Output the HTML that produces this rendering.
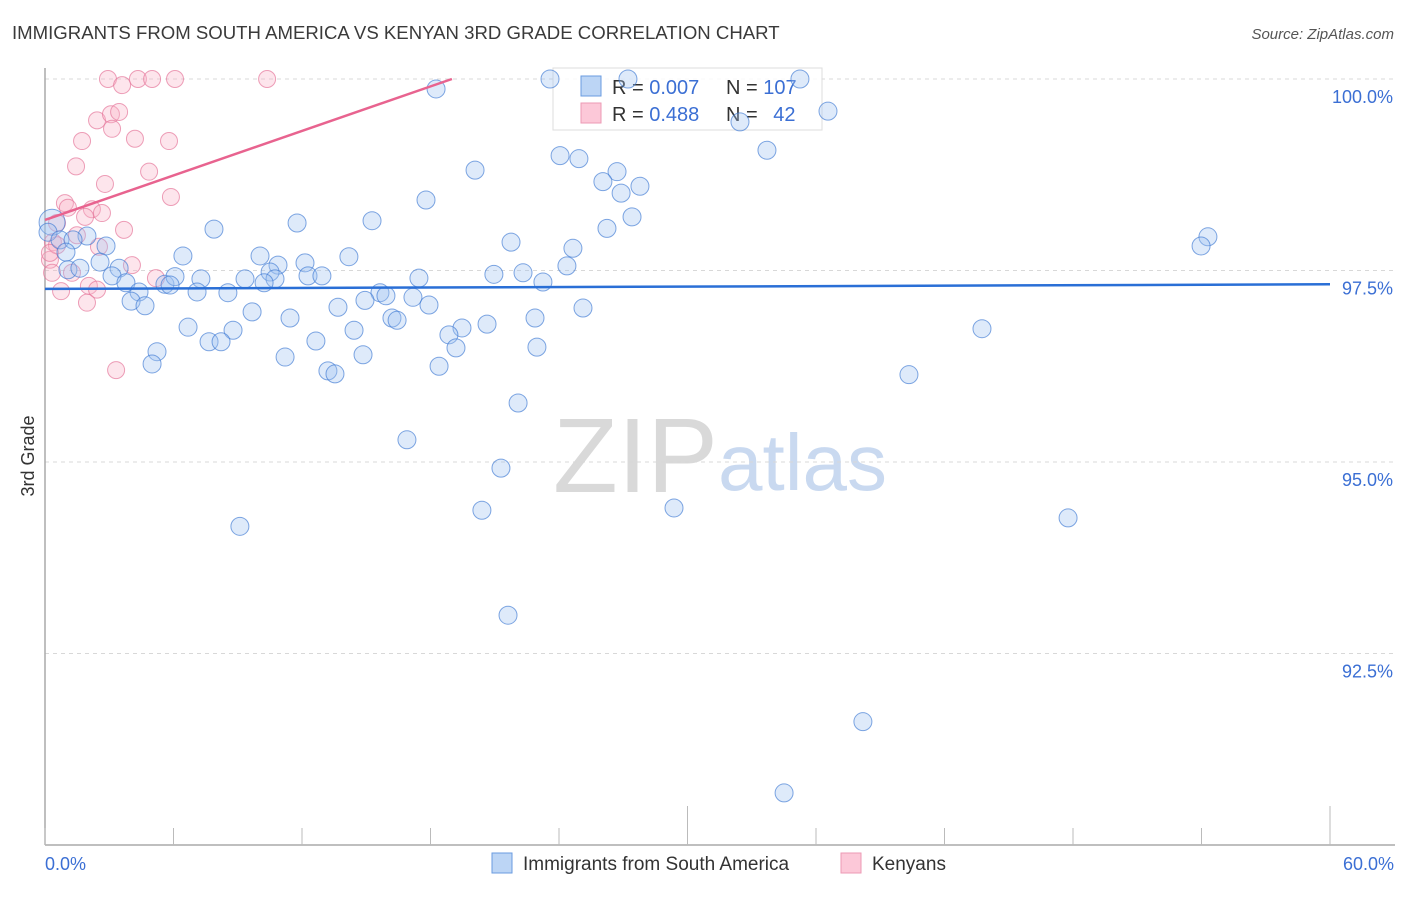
<!DOCTYPE html>
<html><head><meta charset="utf-8"><style>
body{margin:0;background:#fff;font-family:"Liberation Sans",sans-serif;}
svg text{font-family:"Liberation Sans",sans-serif;}
</style></head><body>
<svg id="chart" width="1406" height="892" viewBox="0 0 1406 892">
<text x="12" y="39" font-size="18.6" fill="#3a3a3a">IMMIGRANTS FROM SOUTH AMERICA VS KENYAN 3RD GRADE CORRELATION CHART</text>
<text x="1394" y="39" font-size="15" fill="#555" font-style="italic" text-anchor="end">Source: ZipAtlas.com</text>
<g>
<text x="553" y="492" font-size="106" fill="#d9d9d9" font-family="Liberation Serif">ZIP</text>
<text x="718" y="490" font-size="80" fill="#c9d9f0">atlas</text>
</g>
<g id="grid"></g><g id="axes"></g>
<g>
<rect x="553" y="68" width="269" height="62" fill="#fff" fill-opacity="0.85" stroke="#ddd"/>
<rect x="581" y="76" width="20" height="20" fill="#bcd5f5" stroke="#6a9be0"/>
<rect x="581" y="103" width="20" height="20" fill="#fcc8d8" stroke="#ec9ab4"/>
<text x="612" y="94" font-size="20" fill="#333">R = <tspan fill="#3b6fd4">0.007</tspan></text>
<text x="726" y="94" font-size="20" fill="#333">N = <tspan fill="#3b6fd4">107</tspan></text>
<text x="612" y="121" font-size="20" fill="#333">R = <tspan fill="#3b6fd4">0.488</tspan></text>
<text x="726" y="121" font-size="20" fill="#333">N = <tspan fill="#3b6fd4" dx="10">42</tspan></text>
</g>
<g id="pink"></g><g id="blue"></g><g id="lines"></g>
<text transform="translate(34,456) rotate(-90)" font-size="18" fill="#333" text-anchor="middle">3rd Grade</text>
<g>
<rect x="492" y="853" width="20" height="20" fill="#bcd5f5" stroke="#6a9be0"/>
<text x="523" y="870" font-size="19" fill="#333">Immigrants from South America</text>
<rect x="841" y="853" width="20" height="20" fill="#fcc8d8" stroke="#ec9ab4"/>
<text x="872" y="870" font-size="19" fill="#333">Kenyans</text>
</g>
</svg>
<script>
const yTicks=[100,97.5,95,92.5];
const yTickLabels=["100.0%","97.5%","95.0%","92.5%"];
const xTickLabels=["0.0%","60.0%"];
const blueX=[18.26,23.58,27.22,35.25,36.56,32.45,33.71,24.05,24.93,26.71,26.05,27.78,26.90,20.08,17.79,27.41,26.24,54.30,53.98,15.27,11.77,7.89,0.33,0.14,0.70,1.96,1.31,2.85,0.98,6.44,10.04,14.19,21.76,24.65,24.37,12.14,10.88,10.51,10.74,12.28,12.93,17.46,20.96,22.32,23.25,1.07,1.63,2.57,3.46,3.13,3.78,4.39,5.60,6.07,5.84,7.28,7.10,8.54,9.34,10.23,4.02,4.67,13.68,15.64,15.92,17.18,17.93,14.94,25.12,22.88,6.68,8.78,9.67,11.44,14.43,16.20,16.44,19.47,18.86,20.64,7.66,8.22,12.65,19.19,22.97,5.23,5.00,11.21,14.85,13.21,13.54,18.40,22.09,16.90,21.29,20.40,29.37,9.10,21.62,40.34,43.75,47.77,38.19,34.51];
const blueY=[99.87,100,100,100,99.58,99.44,99.07,99.00,98.96,98.79,98.66,98.60,98.51,98.81,98.42,98.20,98.05,97.94,97.82,98.15,98.12,98.04,98.13,98.00,97.90,97.95,97.90,97.82,97.74,97.69,97.69,97.68,97.87,97.79,97.56,97.60,97.57,97.48,97.39,97.43,97.43,97.40,97.45,97.47,97.35,97.51,97.53,97.61,97.53,97.43,97.34,97.22,97.32,97.42,97.31,97.39,97.22,97.21,97.39,97.34,97.10,97.04,97.02,97.21,97.17,97.15,97.05,97.11,97.01,96.88,96.76,96.72,96.96,96.88,96.72,96.88,96.85,96.75,96.66,96.80,96.57,96.57,96.58,96.49,96.50,96.44,96.28,96.37,96.40,96.19,96.15,96.25,95.77,95.29,94.92,94.37,94.40,94.16,93.00,96.14,96.74,94.27,91.61,90.68];
const pinkX=[2.94,3.60,4.34,5.00,6.07,10.37,2.43,3.08,3.46,3.13,1.73,4.20,5.79,1.45,2.80,4.86,5.88,0.93,1.07,2.19,2.66,1.87,0.56,3.69,0.37,2.52,0.23,0.33,1.26,4.06,5.18,2.05,2.43,0.75,1.96,3.32,0.56,1.49,0.23];
const pinkY=[100,99.92,100,100,100,100,99.46,99.54,99.57,99.35,99.19,99.22,99.19,98.86,98.63,98.79,98.46,98.38,98.32,98.30,98.25,98.20,98.12,98.03,97.87,97.81,97.64,97.47,97.47,97.57,97.40,97.30,97.25,97.23,97.08,96.20,97.83,97.96,97.73];
const blueTrendX=[0,60], blueTrendY=[97.26,97.32];
const pinkTrendX=[0,19], pinkTrendY=[98.16,100];
const X0=45,X1=1330,Y100=79,PXPCT=76.6;
const sx=v=>X0+(v/60)*(X1-X0);
const sy=v=>Y100+(100-v)*PXPCT;
const NS="http://www.w3.org/2000/svg";
function mk(tag,attrs,parent){const e=document.createElementNS(NS,tag);for(const k in attrs)e.setAttribute(k,attrs[k]);parent.appendChild(e);return e;}
const grid=document.getElementById('grid'),axes=document.getElementById('axes');
yTicks.forEach((t,i)=>{
 const l=mk('line',{x1:X0,x2:1395,y1:sy(t),y2:sy(t),stroke:'#d8d8d8','stroke-dasharray':'4,4'},grid);
 
 
 const tx=mk('text',{x:1393,y:sy(t)+24,'font-size':18,fill:'#3b6fd4','text-anchor':'end'},grid);
 tx.textContent=yTickLabels[i];
 
 
});
let a=mk('line',{x1:X0,x2:X0,y1:68,y2:845,stroke:'#aaa','stroke-width':1.5},axes);


a=mk('line',{x1:X0,x2:1395,y1:845,y2:845,stroke:'#aaa','stroke-width':1.5},axes);


for(let i=0;i<=10;i++){
 const v=i*6;const tall=(i===5||i===10);
 const t=mk('line',{x1:sx(v),x2:sx(v),y1:tall?806:828,y2:845,stroke:'#bbb'},axes);
 
 
}
[[0,'start',45],[60,'end',1394]].forEach((d,i)=>{
 const t=mk('text',{x:d[2],y:870,'font-size':18,fill:'#3b6fd4','text-anchor':d[1]},axes);
 t.textContent=xTickLabels[i];
 
 
});
const pg=document.getElementById('pink');
pinkX.forEach((x,i)=>{
 const c=mk('circle',{cx:sx(x),cy:sy(pinkY[i]),r:8.5,fill:'rgba(250,180,200,0.35)',stroke:'rgba(230,120,155,0.7)','stroke-width':1},pg);
 
 
});
const bg=document.getElementById('blue');
blueX.forEach((x,i)=>{
 const c=mk('circle',{cx:sx(x),cy:sy(blueY[i]),r:(i===22?13:9),fill:'rgba(160,196,240,0.35)',stroke:'rgba(60,120,210,0.65)','stroke-width':1},bg);
 
 
});
const lg=document.getElementById('lines');
let ln=mk('line',{x1:sx(blueTrendX[0]),y1:sy(blueTrendY[0]),x2:sx(blueTrendX[1]),y2:sy(blueTrendY[1]),stroke:'#2a6fd6','stroke-width':2.5},lg);


ln=mk('line',{x1:sx(pinkTrendX[0]),y1:sy(pinkTrendY[0]),x2:sx(pinkTrendX[1]),y2:sy(pinkTrendY[1]),stroke:'#e8638f','stroke-width':2.5},lg);


</script>
</body></html>
